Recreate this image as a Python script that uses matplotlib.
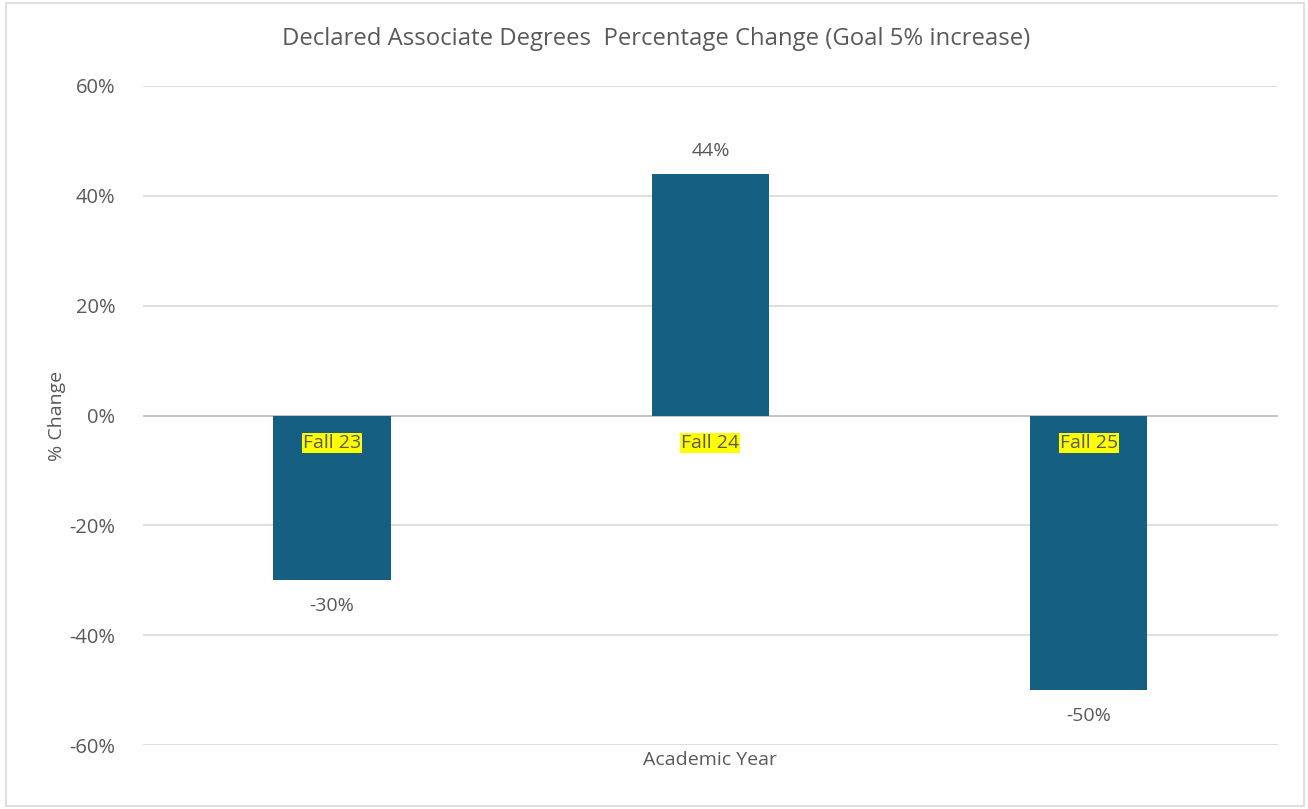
import matplotlib
matplotlib.use("Agg")
import matplotlib.pyplot as plt
from matplotlib.patches import Rectangle

categories = ["Fall 23", "Fall 24", "Fall 25"]
pct_change = [-30, 44, -50]
y_ticks = [-60, -40, -20, 0, 20, 40, 60]

plt.rcParams["font.family"] = ["Open Sans", "DejaVu Sans"]
bar_color = "#156082"
text_color = "#595959"

fig = plt.figure(figsize=(13.08, 8.09), dpi=100)
ax = fig.add_axes([0.1093, 0.0791, 0.8677, 0.8146])

xs = list(range(len(categories)))
ax.bar(xs, pct_change, width=0.31, color=bar_color, zorder=3)

for x, v in zip(xs, pct_change):
    off = 10 if v > 0 else -12
    ax.annotate(f"{v}%", xy=(x, v), xytext=(0, off), textcoords="offset points",
                ha="center", va="bottom" if v > 0 else "top", fontsize=14, color=text_color)
    ax.annotate(categories[x], xy=(x, 0), xytext=(0, -20), textcoords="offset points",
                ha="center", va="center", fontsize=14, color=text_color, zorder=5,
                bbox=dict(boxstyle="square,pad=0.05", fc="#ffff00", ec="none"))

ax.set_xlim(-0.5, len(categories) - 0.5)
ax.set_ylim(-60, 60)
ax.set_yticks(y_ticks)
ax.set_yticklabels([f"{t}%" for t in y_ticks], fontsize=14.5, color=text_color)
ax.set_xticks([])
ax.tick_params(axis="y", length=0, pad=20)
ax.grid(axis="y", color="#d9d9d9", linewidth=1.2, zorder=0)
ax.axhline(0, color="#bfbfbf", linewidth=1.2, zorder=2)
for s in ax.spines.values():
    s.set_visible(False)

ax.set_ylabel("% Change", fontsize=14, color=text_color, labelpad=2)
ax.set_xlabel("Academic Year", fontsize=14, color=text_color, labelpad=4)
fig.text(0.502, 0.952, "Declared Associate Degrees  Percentage Change (Goal 5% increase)",
         ha="center", va="center", fontsize=17.2, color=text_color)

fig.patches.append(Rectangle((6 / 1308, 3 / 809), 1298 / 1308, 803 / 809,
                             transform=fig.transFigure, fill=False, ec="#d9d9d9", lw=1.2))

fig.savefig("out.png", dpi=100)
